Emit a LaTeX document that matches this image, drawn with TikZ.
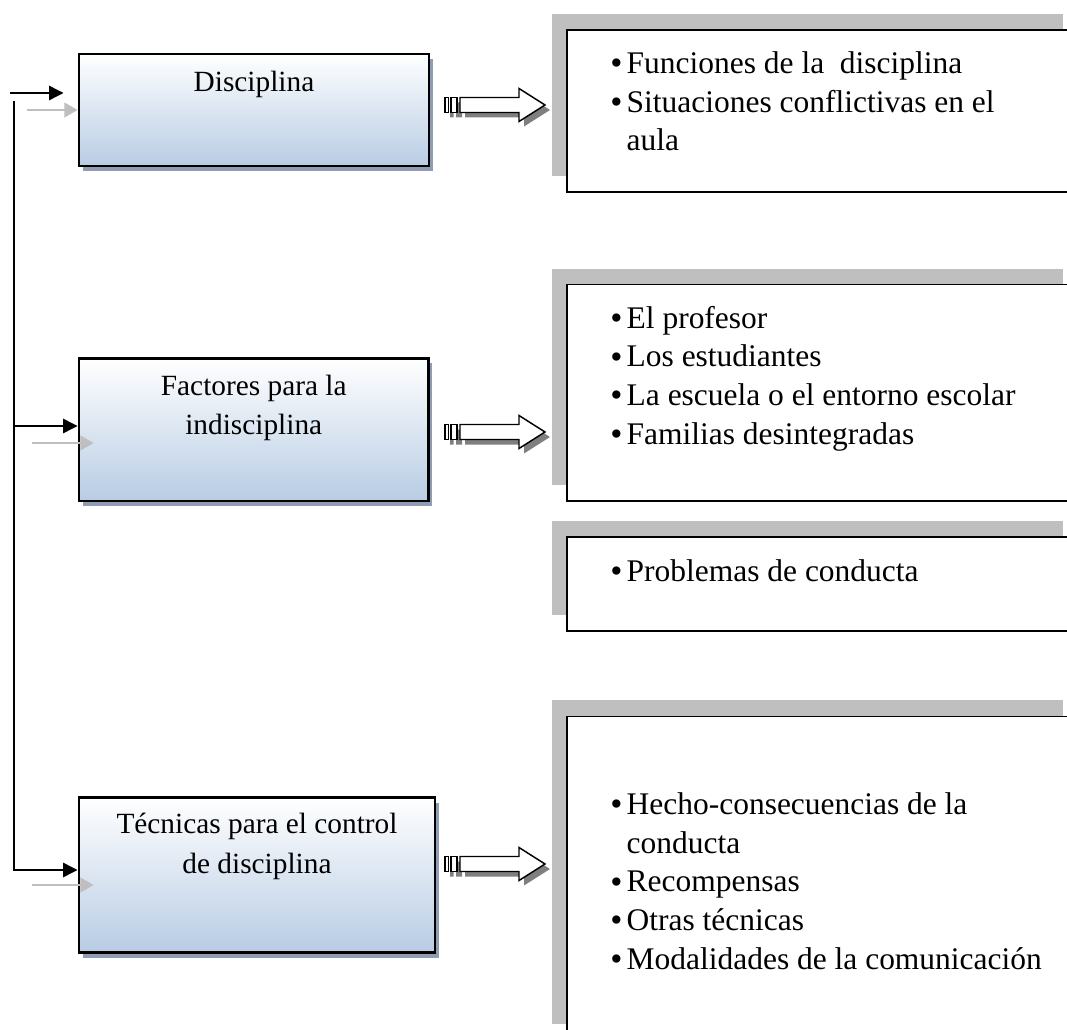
\documentclass[tikz,border=0pt]{standalone}
\usepackage{fontspec}
\setmainfont{Liberation Serif}
\usetikzlibrary{positioning,shadows,arrows.meta}

\definecolor{boxblue}{HTML}{B8CCE4}
\definecolor{boxshade}{HTML}{8E9DB3}
\definecolor{listshade}{HTML}{BFBFBF}
\definecolor{arrshade}{HTML}{7F7F7F}
\definecolor{linkgray}{HTML}{BFBFBF}

\newcommand{\listdot}{\makebox[11.6pt][l]{\hspace*{-0.6pt}\raisebox{-1pt}{\fontsize{26pt}{26pt}\selectfont\textbullet}}}
\newcommand{\listind}{\hspace*{11.6pt}}

\begin{document}
\begin{tikzpicture}[x=0.75pt,y=-0.75pt,
  topicbox/.style={draw=black, line width=2pt, top color=white, bottom color=boxblue,
    drop shadow={shadow xshift=3pt, shadow yshift=-3.75pt, fill=boxshade, opacity=1}},
  topictext/.style={anchor=base, align=center, inner sep=0pt, font=\fontsize{22pt}{29.5pt}\selectfont},
  listbox/.style={draw=black, line width=1.1pt, fill=white, minimum width=383.25pt,
    drop shadow={shadow xshift=-11.25pt, shadow yshift=12pt, fill=listshade, opacity=1}},
  listtext/.style={anchor=base west, align=left, inner sep=0pt, font=\fontsize{23.6pt}{29pt}\selectfont},
  busline/.style={line width=2.2pt, -{Triangle[length=11pt,width=10.5pt]}},
  feedline/.style={draw=linkgray, line width=1.5pt, -{Triangle[length=10pt,width=11pt]}}]
\useasboundingbox (0,0) rectangle (1067,1030);
\clip (0,0) rectangle (1067,1030);

% topics on the left (base = last line)
\node[topicbox, minimum width=262.5pt, minimum height=84pt] (dis) at (254,110) {};
\node[topictext] (distext) at ([yshift=-28.9pt]dis.north) {Disciplina};
\node[topicbox, minimum width=262.1pt, minimum height=106.9pt] (fac) at (253.75,429.75) {};
\node[topictext] (factext) at ([yshift=-58pt]fac.north) {Factores para la\\indisciplina};
\node[topicbox, minimum width=267pt, minimum height=116.25pt] (tec) at (257,875) {};
\node[topictext] (tectext) at ([yshift=-57.8pt]tec.north) {Técnicas para el control\\de disciplina};

% lists on the right
\node[listbox, minimum height=121.5pt] (funlist) at (822.5,111) {};
\node[listtext] (funitems) at (611,151) {\listdot Funciones de la~ disciplina\\\listdot Situaciones conflictivas en el\\\listind aula};
\node[listbox, minimum height=162.3pt] (faclist) at (822.5,392.8) {};
\node[listtext] (facitems) at (611,444) {\listdot El profesor\\\listdot Los estudiantes\\\listdot La escuela o el entorno escolar\\\listdot Familias desintegradas};
\node[listbox, minimum height=70.5pt] (problist) at (822.5,584) {};
\node[listtext] (probitems) at (611,581) {\listdot Problemas de conducta};
\node[listbox, minimum height=242.6pt] (teclist) at (822.5,878) {};
\node[listtext] (tecitems) at (611,969) {\listdot Hecho-consecuencias de la\\\listind conducta\\\listdot Recompensas\\\listdot Otras técnicas\\\listdot Modalidades de la comunicación};

% bus on the left
\coordinate (bustop) at (14,101);
\coordinate (a1) at (10,93);
\coordinate (b2) at (14,426);
\draw[busline] (bustop) |- ([yshift=3.75pt]tec.west);
\draw[busline] (a1) -- ([xshift=-10.5pt,yshift=12.75pt]dis.west);
\draw[busline] (b2) -- (b2 -| fac.west);

\coordinate (g1) at (27,110);
\coordinate (g2) at (32,443);
\coordinate (g3) at (32,885);
\draw[feedline] (g1) -- (dis.west);
\draw[feedline] (g2) -- ([xshift=12pt]g2 -| fac.west);
\draw[feedline] (g3) -- ([xshift=12pt]g3 -| tec.west);

% block arrows
\foreach \c in {105,432,864}{
  \begin{scope}[shift={(0,\c)}]
    \fill[arrshade] (450,-2.5) rectangle (453.5,12.5) (456,-2.5) rectangle (462,12.5);
    \fill[arrshade] (465,-2.5) -- (524,-2.5) -- (524,-11.5) -- (550,5) -- (524,21.5) -- (524,12.5) -- (465,12.5) -- cycle;
    \draw[line width=1.1pt, fill=white] (445,-7.5) rectangle (448.5,7.5) (451,-7.5) rectangle (457,7.5);
    \draw[line width=1.1pt, fill=white] (460,-7.5) -- (519,-7.5) -- (519,-16.5) -- (545,0) -- (519,16.5) -- (519,7.5) -- (460,7.5) -- cycle;
  \end{scope}
}
\end{tikzpicture}
\end{document}
